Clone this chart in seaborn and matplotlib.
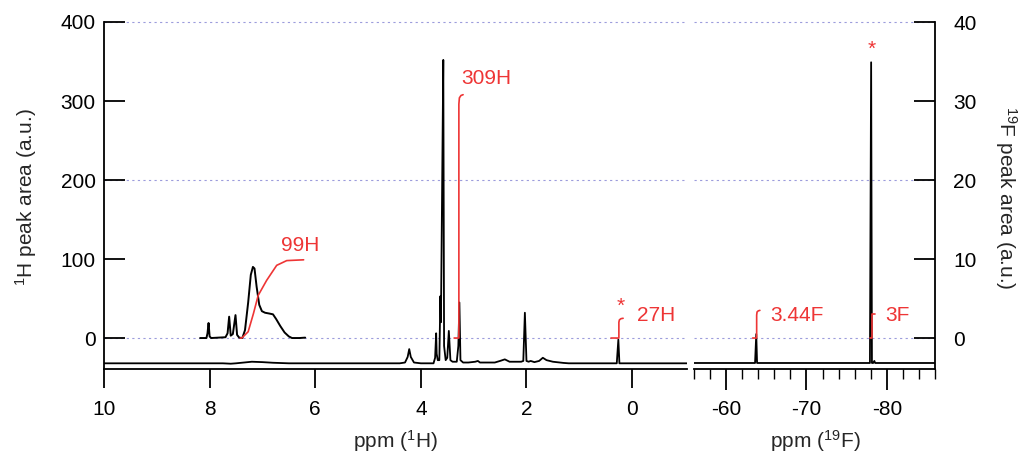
import matplotlib
matplotlib.use("Agg")
import matplotlib.pyplot as plt
from matplotlib.ticker import MultipleLocator, FixedLocator
import seaborn as sns

# ---------------- data ----------------
# 1H spectrum, main trace (offset baseline), ppm / peak area (a.u.)
h_main_ppm = [10.0, 7.75, 7.6, 7.5, 7.35, 7.2, 7.0, 6.8, 6.5, 4.40, 4.30, 4.25, 4.22, 4.19,
              4.13, 4.00, 3.76, 3.73, 3.71, 3.70, 3.68, 3.65, 3.63, 3.62, 3.60, 3.575,
              3.56, 3.53, 3.50, 3.47, 3.44, 3.40, 3.32, 3.29, 3.27, 3.25, 3.20, 3.10,
              2.97, 2.92, 2.88, 2.60, 2.50, 2.41, 2.32, 2.18, 2.10, 2.06, 2.03, 2.00,
              1.96, 1.92, 1.85, 1.76, 1.69, 1.62, 1.50, 1.30, 1.20, 0.29, 0.26, 0.24, -1.1]
h_main_val = [-32, -32, -32.5, -32, -31, -30, -30.5, -31.3, -32, -32, -31, -24, -14, -24,
              -31, -32, -32, -25, 6, -20, -28, -28, 53, 20, 166, 352,
              -10, -28, -25, 9, -28, -30, -30, -10, 45, -28, -31, -31,
              -30, -29, -31, -31, -29, -27, -30, -30, -30, -29, 32, -29,
              -30, -29, -30.5, -29, -25, -28, -30, -31.5, -32, -32, -2, -32, -32]

# 1H aromatic region, enlarged trace
h_arom_ppm = [8.18, 8.06, 8.04, 8.02, 8.00, 7.97, 7.70, 7.66, 7.63, 7.60, 7.56, 7.51, 7.48,
              7.44, 7.38, 7.33, 7.27, 7.22, 7.18, 7.15, 7.11, 7.06, 7.01, 6.95, 6.87,
              6.80, 6.74, 6.66, 6.58, 6.50, 6.44, 6.30, 6.19]
h_arom_val = [0, 0, 6, 19, 2, 0, 1, 6, 27, 3, 5, 29, 4,
              0.5, 0, 10, 45, 80, 90, 88, 65, 42, 34, 32, 31,
              30, 24, 15, 7, 2, 0, 0, 0.5]

# integral traces (1H)
int99_ppm = [7.42, 7.39, 7.27, 7.17, 7.08, 6.92, 6.73, 6.54, 6.22]
int99_val = [0, 0, 8, 31, 54, 73, 92, 98, 99]
int309_ppm = [3.37, 3.28, 3.28, 3.27, 3.24, 3.20]
int309_val = [0, 0, 296, 304, 307, 308]
int27_ppm = [0.40, 0.25, 0.25, 0.24, 0.21, 0.17]
int27_val = [0, 0, 20, 23, 24.5, 25]

# 19F spectrum
f_ppm = [-56.0, -63.6, -63.75, -63.85, -64.0, -77.9, -78.05, -78.15, -78.3, -78.45, -78.55, -78.7, -86.0]
f_val = [-3.16, -3.16, 0.5, -3.16, -3.16, -3.16, 34.9, -3.16, -3.16, -2.9, -3.16, -3.16, -3.16]
int344_ppm = [-63.3, -63.8, -63.8, -63.85, -64.0, -64.2]
int344_val = [0, 0, 2.9, 3.3, 3.44, 3.5]
int3_ppm = [-77.85, -78.1, -78.1, -78.55]
int3_val = [0, 0, 3.0, 3.0]

h_labels = ["99H", "309H", "27H"]
f_labels = ["3.44F", "3F"]
h_yticks = [0, 100, 200, 300, 400]
f_yticks = [0, 10, 20, 30, 40]
h_xticks = [10, 8, 6, 4, 2, 0]
f_xticks = [-60, -70, -80]

# ---------------- style ----------------
sns.set_style("white")
plt.rcParams["font.family"] = ["Liberation Sans", "DejaVu Sans"]
plt.rcParams["mathtext.fontset"] = "custom"
plt.rcParams["mathtext.rm"] = "Liberation Sans"
plt.rcParams["mathtext.it"] = "Liberation Sans:italic"

RED = "#ee3535"
GRID = "#9c9cdc"
FS = 15

W, H = 1031, 455
fig = plt.figure(figsize=(W / 100, H / 100), dpi=100)
y0, y1 = 369, 22
axL = fig.add_axes([104 / W, 1 - y0 / H, (687 - 104) / W, (y0 - y1) / H])
axR = fig.add_axes([694 / W, 1 - y0 / H, (935 - 694) / W, (y0 - y1) / H])

for ax in (axL, axR):
    ax.set_facecolor("none")

# grid lines
for g in (0, 200, 400):
    axL.axhline(g, color=GRID, lw=0.8, ls=(0, (2, 3)), zorder=0, clip_on=False)
for g in (0, 20, 40):
    axR.axhline(g, color=GRID, lw=0.8, ls=(0, (2, 3)), zorder=0, clip_on=False)

kw = dict(sort=False, estimator=None, legend=False)
sns.lineplot(x=h_main_ppm, y=h_main_val, ax=axL, color="black", lw=1.3, **kw)
sns.lineplot(x=h_arom_ppm, y=h_arom_val, ax=axL, color="black", lw=1.4, **kw)
sns.lineplot(x=int99_ppm, y=int99_val, ax=axL, color=RED, lw=1.2, **kw)
sns.lineplot(x=int309_ppm, y=int309_val, ax=axL, color=RED, lw=1.2, **kw)
sns.lineplot(x=int27_ppm, y=int27_val, ax=axL, color=RED, lw=1.2, **kw)
sns.lineplot(x=f_ppm, y=f_val, ax=axR, color="black", lw=1.3, **kw)
sns.lineplot(x=int344_ppm, y=int344_val, ax=axR, color=RED, lw=1.2, **kw)
sns.lineplot(x=int3_ppm, y=int3_val, ax=axR, color=RED, lw=1.2, **kw)

# limits
axL.set_xlim(10, -1.04)
axL.set_ylim(-39.2, 400)
axR.set_xlim(-56, -86)
axR.set_ylim(-3.92, 40)

# labels on peaks
axL.text(6.64, 117, h_labels[0], color=RED, fontsize=FS, ha="left", va="center")
axL.text(3.24, 328, h_labels[1], color=RED, fontsize=FS, ha="left", va="center")
axL.text(-0.09, 29, h_labels[2], color=RED, fontsize=FS, ha="left", va="center")
axL.text(0.21, 40, "*", color=RED, fontsize=FS, ha="center", va="center")
axR.text(-65.45, 2.9, f_labels[0], color=RED, fontsize=FS, ha="left", va="center")
axR.text(-79.8, 2.9, f_labels[1], color=RED, fontsize=FS, ha="left", va="center")
axR.text(-78.1, 36.6, "*", color=RED, fontsize=FS, ha="center", va="center")

# spines
for side in ("top", "right"):
    axL.spines[side].set_visible(False)
for side in ("top", "left"):
    axR.spines[side].set_visible(False)
for ax, sides in ((axL, ("left", "bottom")), (axR, ("right", "bottom"))):
    for s in sides:
        ax.spines[s].set_color("black")
        ax.spines[s].set_linewidth(1.3)

# ticks
axL.xaxis.set_major_locator(FixedLocator(h_xticks))
axL.yaxis.set_major_locator(FixedLocator(h_yticks))
axL.tick_params(axis="y", direction="in", length=15, width=1.3, labelsize=FS, pad=6,
                left=True, right=False, colors="black")
axL.tick_params(axis="x", direction="out", length=14, width=1.3, labelsize=FS, pad=8,
                bottom=True, colors="black")
axL.set_xticklabels([str(t) for t in h_xticks])
axL.set_yticklabels([str(t) for t in h_yticks])

axR.yaxis.tick_right()
axR.yaxis.set_major_locator(FixedLocator(f_yticks))
axR.xaxis.set_major_locator(FixedLocator(f_xticks))
axR.xaxis.set_minor_locator(MultipleLocator(2))
axR.tick_params(axis="y", direction="in", length=15, width=1.3, labelsize=FS, pad=13,
                right=True, left=False, colors="black")
axR.tick_params(axis="x", which="major", direction="out", length=15, width=1.3,
                labelsize=FS, pad=7, bottom=True, colors="black")
axR.tick_params(axis="x", which="minor", direction="out", length=7, width=1.0,
                bottom=True, colors="black")
axR.set_xticklabels([str(t) for t in f_xticks])
axR.set_yticklabels([str(t) for t in f_yticks])

axL.set_xlabel("")
axL.set_ylabel("")
axR.set_xlabel("")
axR.set_ylabel("")

# axis titles
fig.text(26 / W, 1 - 197 / H, r"$\mathregular{^1}$H peak area (a.u.)", rotation=90,
         ha="center", va="center", fontsize=FS)
fig.text(1006 / W, 1 - 198 / H, r"$\mathregular{^{19}}$F peak area (a.u.)", rotation=270,
         ha="center", va="center", fontsize=FS)
fig.text(395 / W, 1 - 441 / H, r"ppm ($\mathregular{^1}$H)", ha="center", va="center",
         fontsize=FS)
fig.text(815 / W, 1 - 441 / H, r"ppm ($\mathregular{^{19}}$F)", ha="center", va="center",
         fontsize=FS)

fig.savefig("out.png", dpi=100)
